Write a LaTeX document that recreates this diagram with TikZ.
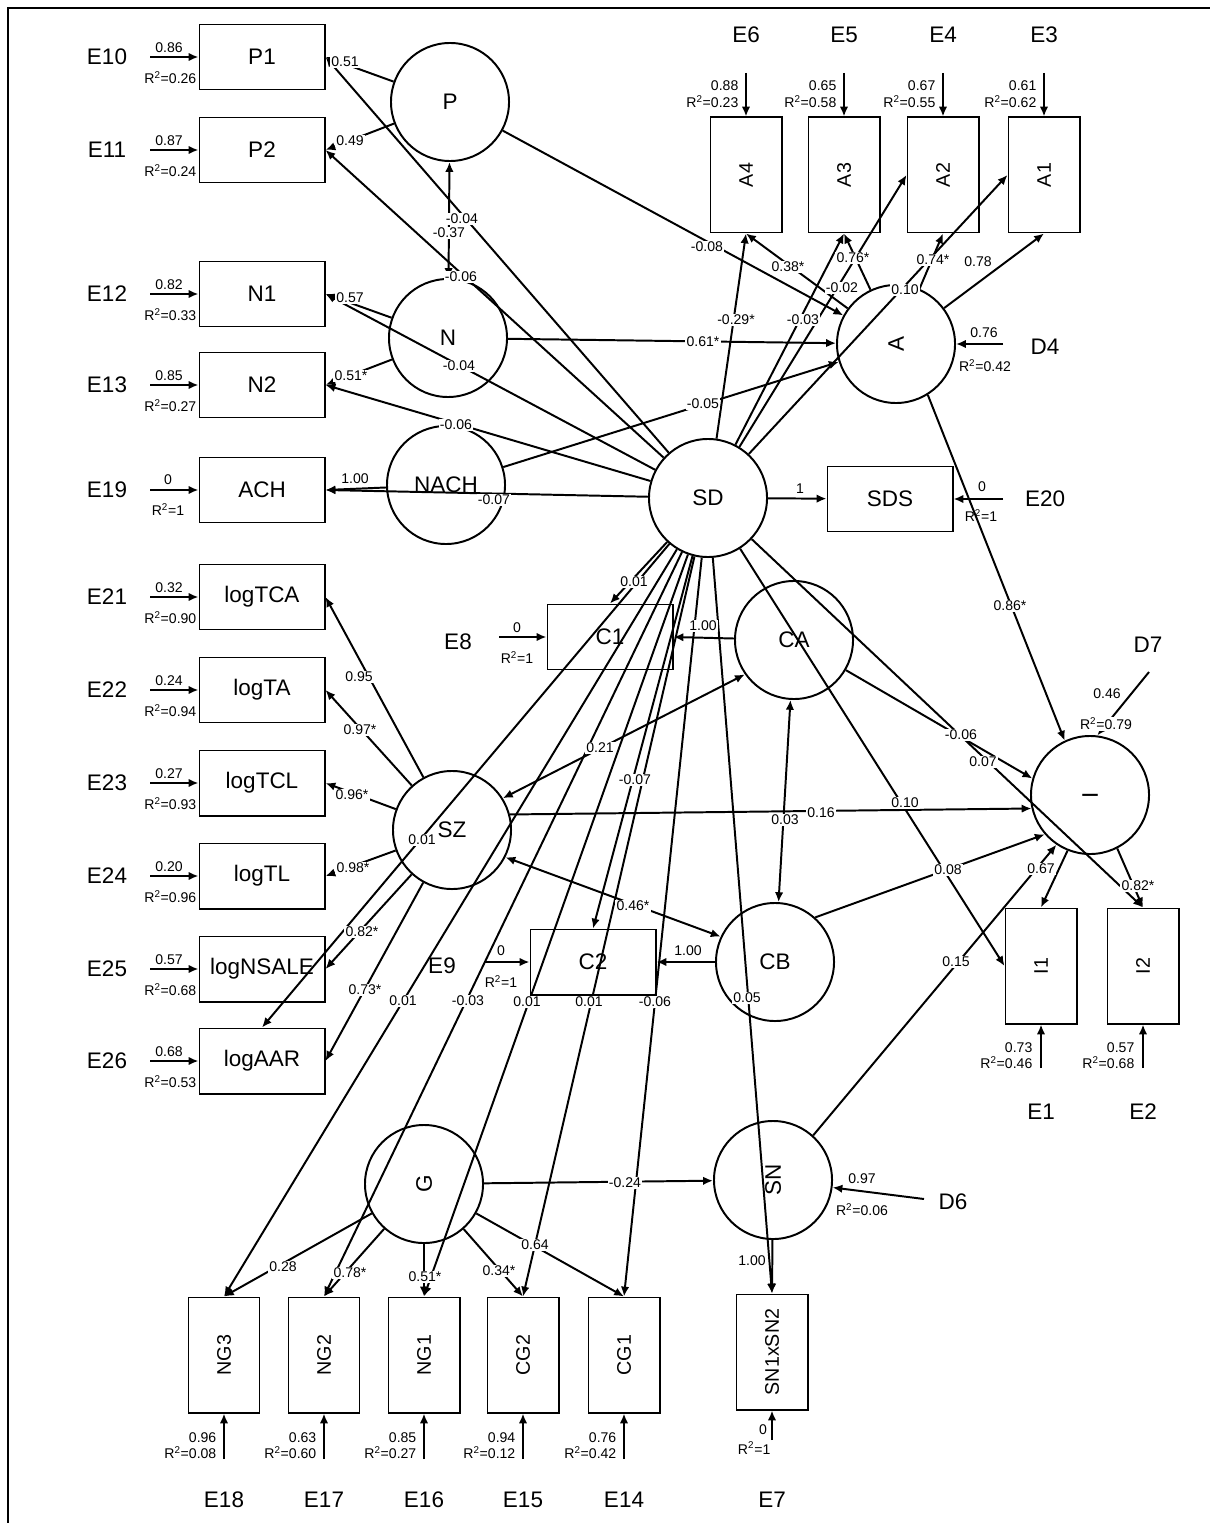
\documentclass[tikz,border=0pt]{standalone}
\usepackage{fontspec}
\usepackage{graphicx}
\setmainfont{Liberation Sans}
\usetikzlibrary{arrows.meta}
\newcommand{\bigfnt}{\fontsize{16}{18}\selectfont}
\newcommand{\vfnt}{\fontsize{14}{16}\selectfont}
\newcommand{\smfnt}{\fontsize{10}{11}\selectfont}
\newcommand{\Rsq}[1]{R\textsuperscript{2}=#1}
\begin{document}
\begin{tikzpicture}[x=0.025cm,y=-0.025cm,line width=1.4pt,
  obs/.style={draw,rectangle,minimum width=3.125cm,minimum height=1.625cm,inner sep=0pt,font=\bigfnt},
  obsv/.style={draw,rectangle,minimum width=1.775cm,minimum height=2.875cm,inner sep=0pt,font=\vfnt},
  lat/.style={draw,circle,minimum size=2.95cm,inner sep=0pt,font=\bigfnt},
  elab/.style={font=\bigfnt,inner sep=0pt},
  sm/.style={font=\smfnt,inner sep=0.5pt},
  coef/.style={font=\smfnt,fill=white,inner sep=0.8pt},
  ar/.style={-{Latex[length=7pt,width=6pt]}},
  dar/.style={{Latex[length=7pt,width=6pt]}-{Latex[length=7pt,width=6pt]}}
]
\useasboundingbox (0,0) rectangle (1210,1523);
\draw[line width=1.2pt] (8,1523) -- (8,8) -- (1210,8);

% ---------- left column indicators ----------
\foreach \nm/\yy/\el/\vv/\rr in {P1/57/E10/0.86/0.26, P2/150/E11/0.87/0.24, N1/294/E12/0.82/0.33, N2/385/E13/0.85/0.27, logTCA/597/E21/0.32/0.90, logTA/690/E22/0.24/0.94, logTCL/783/E23/0.27/0.93, logTL/876/E24/0.20/0.96, logNSALE/969/E25/0.57/0.68, logAAR/1061/E26/0.68/0.53}{
  \node[obs] (\nm) at (262,\yy) {\nm};
  \node[elab] (\el) at (107,\yy) {\el};
  \coordinate (t\el) at (150,\yy);
  \draw[ar] (t\el) -- (\nm);
  \node[sm] (v\el) at (169,\yy-9) {\vv};
  \node[sm,anchor=east] (r\el) at (198,\yy+21) {\Rsq{\rr}};
}
\node[obs] (ACH) at (262,490) {ACH};
\node[elab] (E19) at (107,490) {E19};
\coordinate (tE19) at (150,490);
\draw[ar] (tE19) -- (ACH);
\node[sm] (vE19) at (168,480) {0};
\node[sm] (rE19) at (168,510) {\Rsq{1}};

% ---------- top indicators ----------
\foreach \nm/\xx/\el/\vv/\rr in {A4/746/E6/0.88/0.23, A3/844/E5/0.65/0.58, A2/943/E4/0.67/0.55, A1/1044/E3/0.61/0.62}{
  \node[obsv] (\nm) at (\xx,175) {\rotatebox{90}{\nm}};
  \node[elab] (\el) at (\xx,35) {\el};
  \coordinate (t\el) at (\xx,73);
  \draw[ar] (t\el) -- (\nm);
  \node[sm,anchor=east] (v\el) at (\xx-6,86) {\vv};
  \node[sm,anchor=east] (r\el) at (\xx-6,102) {\Rsq{\rr}};
}

% ---------- bottom indicators ----------
\foreach \nm/\xx/\el/\vv/\rr in {NG3/224/E18/0.96/0.08, NG2/324/E17/0.63/0.60, NG1/424/E16/0.85/0.27, CG2/523/E15/0.94/0.12, CG1/624/E14/0.76/0.42}{
  \node[obsv] (\nm) at (\xx,1355) {\rotatebox{90}{\nm}};
  \node[elab] (\el) at (\xx,1500) {\el};
  \coordinate (t\el) at (\xx,1459);
  \draw[ar] (t\el) -- (\nm);
  \node[sm,anchor=east] (v\el) at (\xx-6,1438) {\vv};
  \node[sm,anchor=east] (r\el) at (\xx-6,1453) {\Rsq{\rr}};
}
\node[obsv] (SN1xSN2) at (772,1352) {\rotatebox{90}{SN1xSN2}};
\node[elab] (E7) at (772,1500) {E7};
\coordinate (tE7) at (772,1440);
\draw[ar] (tE7) -- (SN1xSN2);
\node[sm] (vE7) at (763,1430) {0};
\node[sm,anchor=east] (rE7) at (772,1448) {\Rsq{1}};

% ---------- I indicators ----------
\foreach \nm/\xx/\el/\vv/\rr in {I1/1041/E1/0.73/0.46, I2/1143/E2/0.57/0.68}{
  \node[obsv] (\nm) at (\xx,966) {\rotatebox{90}{\nm}};
  \node[elab] (\el) at (\xx,1112) {\el};
  \coordinate (t\el) at (\xx,1068);
  \draw[ar] (t\el) -- (\nm);
  \node[sm,anchor=east] (v\el) at (\xx-7,1048) {\vv};
  \node[sm,anchor=east] (r\el) at (\xx-7,1063) {\Rsq{\rr}};
}

% ---------- other boxes ----------
\node[obs] (SDS) at (890,499) {SDS};
\node[obs] (C1) at (610,637) {C1};
\node[obs] (C2) at (593,962) {C2};

% ---------- latent variables ----------
\node[lat] (P) at (450,102) {P};
\node[lat] (N) at (448,338) {N};
\node[lat] (NACH) at (446,485) {NACH};
\node[lat] (SD) at (708,498) {SD};
\node[lat] (A) at (896,344) {\rotatebox{90}{A}};
\node[lat] (CA) at (794,640) {CA};
\node[lat] (I) at (1090,795) {\rotatebox{90}{I}};
\node[lat] (SZ) at (452,830) {SZ};
\node[lat] (CB) at (775,962) {CB};
\node[lat] (G) at (424,1184) {\rotatebox{90}{G}};
\node[lat] (SN) at (773,1180) {\rotatebox{90}{SN}};

% ---------- errors / disturbances ----------
\node[elab] (E8) at (458,642) {E8};
\coordinate (tE8) at (499,637);
\draw[ar] (tE8) -- (C1);
\node[sm] (vE8) at (517,628) {0};
\node[sm] (rE8) at (517,658) {\Rsq{1}};

\node[elab] (E9) at (442,966) {E9};
\coordinate (tE9) at (485,962);
\draw[ar] (tE9) -- (C2);
\node[sm] (vE9) at (501,951) {0};
\node[sm] (rE9) at (501,982) {\Rsq{1}};

\node[elab] (E20) at (1045,499) {E20};
\coordinate (tE20) at (1003,499);
\draw[ar] (tE20) -- (SDS);
\node[sm] (vE20) at (982,487) {0};
\node[sm] (rE20) at (981,516) {\Rsq{1}};

\node[elab] (D4) at (1045,347) {D4};
\coordinate (tD4) at (1003,344);
\draw[ar] (tD4) -- (A);
\node[sm] (vD4) at (984,333) {0.76};
\node[sm] (rD4) at (985,366) {\Rsq{0.42}};

\node[elab] (D6) at (953,1202) {D6};
\coordinate (tD6) at (924,1199);
\draw[ar] (tD6) -- (SN);
\node[sm] (rD6) at (862,1210) {\Rsq{0.06}};

\node[elab] (D7) at (1148,645) {D7};
\coordinate (tD7) at (1149,672);
\draw[ar] (tD7) -- (I.83);
\node[sm] (vD7) at (1107,694) {0.46};

% ---------- measurement paths ----------
\draw[ar] (P) -- (P1.east);
\draw[ar] (P) -- (P2.east);
\draw[ar] (N) -- (N1.east);
\draw[ar] (N) -- (N2.east);
\draw[ar] (NACH) -- (ACH.east);
\draw[ar] (SD) -- (SDS);
\foreach \tg in {logTCA,logTA,logTCL,logTL,logNSALE,logAAR} \draw[ar] (SZ) -- (\tg.east);
\foreach \tg in {A4,A3,A2,A1} \draw[ar] (A) -- (\tg.south);
\draw[ar] (CA) -- (C1.east);
\draw[ar] (CB) -- (C2.east);
\draw[ar] (I.248) -- (I1.north);
\draw[ar] (I.297) -- (I2.north);
\foreach \tg in {NG3,NG2,NG1,CG2,CG1} \draw[ar] (G) -- (\tg.north);
\draw[ar] (SN) -- (SN1xSN2.north);

% ---------- structural paths ----------
\draw[ar] (P) -- (A);
\draw[ar] (N) -- (A);
\draw[ar] (NACH) -- (A);
\draw[ar] (A.302) -- (I.115);
\draw[ar] (CA) -- (I.164);
\draw[ar] (SZ.15) -- (I.193);
\draw[ar] (CB.48) -- (I.221);
\draw[ar] (SN.48) -- (I.236);
\draw[ar] (G) -- (SN);

% ---------- correlations ----------
\draw[dar] (P) -- (N);
\draw[dar] (CA.215) -- (SZ.32);
\draw[dar] (CA) -- (CB);
\draw[dar] (SZ.333) -- (CB.155);

% ---------- SD method paths ----------
\foreach \tg in {P1,P2,N1,N2,ACH} \draw[ar] (SD) -- (\tg.east);
\foreach \tg in {A4,A3} \draw[ar] (SD) -- (\tg.south);
\foreach \tg in {A2,A1} \draw[ar] (SD) -- (\tg.west);
\foreach \tg in {C1,C2,logAAR,NG3,NG2,NG1,CG2,CG1,SN1xSN2,I2} \draw[ar] (SD) -- (\tg.north);
\draw[ar] (SD) -- (I1.west);

% ---------- coefficient labels ----------
\foreach \xx/\yy/\tx [count=\k] in {
  345/62/0.51, 350/141/0.49, 350/298/0.57, 351/376/0.51*, 355/479/1.00, 800/489/1,
  359/677/0.95, 360/730/0.97*, 352/795/0.96*, 353/868/0.98*, 362/932/0.82*, 365/990/0.73*,
  788/267/0.38*, 853/258/0.76*, 933/260/0.74*, 978/262/0.78,
  703/626/1.00, 688/951/1.00, 1041/869/0.67, 1138/886/0.82*,
  283/1267/0.28, 350/1273/0.78*, 425/1277/0.51*, 499/1271/0.34*, 535/1245/0.64, 752/1261/1.00,
  707/247/-0.08, 703/342/0.61*, 703/404/-0.05, 1010/606/0.86*, 983/762/0.07, 821/813/0.16,
  948/870/0.08, 956/962/0.15, 625/1183/-0.24,
  449/233/-0.37, 600/748/0.21, 785/820/0.03, 633/906/0.46*,
  462/219/-0.04, 461/277/-0.06, 459/366/-0.04, 456/425/-0.06, 494/500/-0.07,
  736/320/-0.29*, 803/320/-0.03, 842/288/-0.02, 905/290/0.10,
  634/582/0.01, 635/780/-0.07, 422/840/0.01, 403/1001/0.01, 468/1001/-0.03, 527/1002/0.01,
  589/1002/0.01, 655/1002/-0.06, 747/998/0.05, 905/803/0.10, 961/735/-0.06,
  862/1179/0.97, 1106/724/{\Rsq{0.79}}}
  \node[coef] (c\k) at (\xx,\yy) {\tx};
\end{tikzpicture}
\end{document}
